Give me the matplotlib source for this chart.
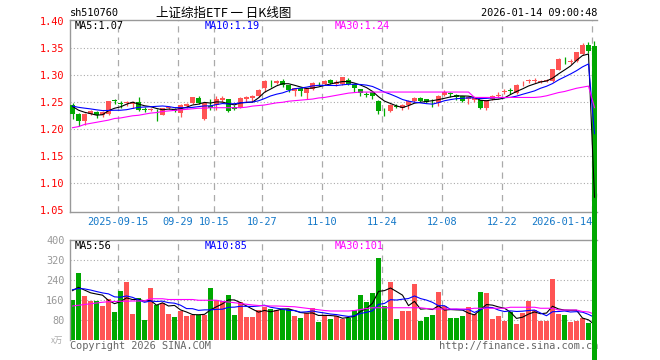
import numpy as np
import matplotlib
matplotlib.use('Agg')
import matplotlib.pyplot as plt

# daily candles, 2025-09-03 .. 2026-01-14 (last bar is the pre-market glitch at 0)
opens = [1.245, 1.228, 1.215, 1.229, 1.232, 1.226, 1.228, 1.254, 1.249, 1.248,
         1.247, 1.250, 1.237, 1.235, 1.234, 1.227, 1.239, 1.238, 1.230, 1.243,
         1.248, 1.258, 1.220, 1.244, 1.245, 1.254, 1.256, 1.242, 1.240, 1.256,
         1.258, 1.262, 1.276, 1.288, 1.285, 1.290, 1.282, 1.271, 1.277, 1.267,
         1.274, 1.284, 1.283, 1.291, 1.283, 1.283, 1.291, 1.283, 1.274, 1.265,
         1.270, 1.252, 1.236, 1.234, 1.243, 1.240, 1.245, 1.252, 1.258, 1.256,
         1.253, 1.248, 1.263, 1.267, 1.264, 1.262, 1.256, 1.254, 1.254, 1.240,
         1.257, 1.261, 1.270, 1.272, 1.268, 1.285, 1.289, 1.290, 1.288, 1.289,
         1.289, 1.310, 1.327, 1.325, 1.326, 1.339, 1.357, 1.355]
closes = [1.228, 1.215, 1.229, 1.233, 1.226, 1.232, 1.252, 1.252, 1.246, 1.250,
          1.251, 1.235, 1.236, 1.238, 1.233, 1.239, 1.241, 1.233, 1.245, 1.246,
          1.260, 1.249, 1.249, 1.239, 1.257, 1.258, 1.234, 1.238, 1.258, 1.260,
          1.262, 1.273, 1.290, 1.287, 1.290, 1.282, 1.273, 1.276, 1.271, 1.276,
          1.286, 1.283, 1.290, 1.285, 1.288, 1.296, 1.283, 1.276, 1.267, 1.264,
          1.261, 1.234, 1.235, 1.245, 1.242, 1.245, 1.252, 1.258, 1.253, 1.250,
          1.252, 1.262, 1.270, 1.266, 1.259, 1.252, 1.260, 1.258, 1.240, 1.254,
          1.262, 1.264, 1.271, 1.271, 1.282, 1.286, 1.291, 1.290, 1.289, 1.291,
          1.312, 1.331, 1.326, 1.326, 1.343, 1.357, 1.345, 0.000]
highs = [1.248, 1.230, 1.230, 1.235, 1.234, 1.234, 1.252, 1.256, 1.252, 1.252,
         1.253, 1.259, 1.241, 1.239, 1.238, 1.240, 1.243, 1.239, 1.246, 1.249,
         1.260, 1.262, 1.251, 1.256, 1.262, 1.262, 1.257, 1.245, 1.259, 1.261,
         1.263, 1.275, 1.291, 1.291, 1.291, 1.294, 1.282, 1.277, 1.279, 1.276,
         1.288, 1.288, 1.291, 1.293, 1.291, 1.296, 1.295, 1.285, 1.275, 1.269,
         1.271, 1.254, 1.239, 1.246, 1.246, 1.246, 1.254, 1.259, 1.259, 1.257,
         1.256, 1.263, 1.272, 1.270, 1.265, 1.262, 1.262, 1.258, 1.255, 1.255,
         1.263, 1.269, 1.275, 1.276, 1.283, 1.290, 1.294, 1.295, 1.292, 1.293,
         1.312, 1.332, 1.333, 1.331, 1.344, 1.359, 1.362, 1.363]
lows = [1.220, 1.207, 1.208, 1.226, 1.221, 1.223, 1.227, 1.246, 1.240, 1.243,
        1.240, 1.233, 1.232, 1.234, 1.215, 1.226, 1.237, 1.232, 1.223, 1.240,
        1.247, 1.247, 1.217, 1.235, 1.236, 1.251, 1.232, 1.236, 1.239, 1.250,
        1.251, 1.260, 1.270, 1.279, 1.284, 1.279, 1.269, 1.262, 1.262, 1.257,
        1.272, 1.280, 1.282, 1.283, 1.281, 1.282, 1.282, 1.269, 1.261, 1.260,
        1.257, 1.228, 1.224, 1.232, 1.239, 1.236, 1.238, 1.250, 1.250, 1.248,
        1.242, 1.244, 1.261, 1.259, 1.255, 1.250, 1.247, 1.251, 1.238, 1.236,
        1.254, 1.258, 1.266, 1.266, 1.266, 1.281, 1.285, 1.285, 1.285, 1.287,
        1.288, 1.309, 1.320, 1.320, 1.325, 1.338, 1.341, 0.000]
# volume (万)
volumes = [157, 267, 175, 155, 155, 135, 161, 111, 195, 231,
           101, 165, 79, 205, 137, 148, 101, 91, 115, 95,
           97, 97, 99, 205, 157, 155, 177, 97, 151, 91,
           91, 117, 131, 124, 117, 121, 121, 95, 85, 105,
           125, 71, 97, 81, 95, 81, 88, 119, 179, 151,
           188, 325, 135, 231, 81, 115, 115, 221, 75, 91,
           97, 191, 135, 85, 85, 93, 129, 101, 191, 185,
           81, 93, 75, 112, 61, 105, 155, 119, 75, 75,
           241, 101, 97, 71, 75, 85, 65, 0]
# closes / volumes of the days just before the window (for MA5 / MA10)
prev_closes = [1.238, 1.244, 1.247, 1.243, 1.246, 1.250, 1.248, 1.246, 1.240]
prev_volumes = [220, 190, 200, 215, 190, 200, 230, 210, 180]
# MA30 lines
price_ma30 = [1.203, 1.205, 1.209, 1.211, 1.213, 1.215, 1.217, 1.220, 1.221, 1.223,
              1.225, 1.226, 1.228, 1.230, 1.231, 1.233, 1.234, 1.235, 1.236, 1.237,
              1.238, 1.239, 1.239, 1.240, 1.240, 1.240, 1.240, 1.240, 1.240, 1.241,
              1.243, 1.244, 1.245, 1.247, 1.249, 1.250, 1.252, 1.253, 1.254, 1.255,
              1.256, 1.258, 1.259, 1.261, 1.263, 1.265, 1.267, 1.268, 1.269, 1.269,
              1.269, 1.269, 1.269, 1.269, 1.269, 1.269, 1.269, 1.269, 1.269, 1.269,
              1.269, 1.269, 1.269, 1.269, 1.269, 1.269, 1.269, 1.259, 1.259, 1.259,
              1.259, 1.259, 1.259, 1.259, 1.259, 1.259, 1.259, 1.259, 1.260, 1.262,
              1.265, 1.268, 1.270, 1.273, 1.276, 1.278, 1.280, 1.240]
vol_ma30 = [134, 137, 140, 143, 146, 149, 151, 152, 153, 153,
            154, 154, 155, 163, 163, 163, 160, 160, 160, 160,
            160, 157, 157, 157, 157, 152, 150, 147, 144, 141,
            138, 136, 135, 134, 134, 133, 132, 131, 128, 125,
            122, 119, 116, 114, 114, 114, 114, 116, 120, 124,
            127, 127, 127, 127, 127, 127, 127, 127, 127, 124,
            122, 122, 122, 122, 122, 122, 122, 125, 125, 125,
            125, 125, 125, 129, 129, 129, 129, 129, 125, 125,
            125, 118, 118, 118, 118, 112, 110, 101]

tick_bars = [8, 18, 24, 32, 42, 52, 62, 72, 87]
tick_labels = ['2025-09-15', '09-29', '10-15', '10-27', '11-10', '11-24', '12-08', '12-22', '2026-01-14']
vol_grid_bars = [8, 18, 32, 42, 52, 62, 72]

price_ticks = [1.05, 1.10, 1.15, 1.20, 1.25, 1.30, 1.35, 1.40]
vol_ticks = [80, 160, 240, 320, 400]

RED = '#ff5454'
GREEN = '#00a800'
GRID = '#aaaaaa'
FRAME = '#999999'
MONO = 'DejaVu Sans Mono'
CJK = ['Noto Sans CJK SC', 'DejaVu Sans']


def ma(prev, vals, n):
    s = np.concatenate([np.array(prev[-(n - 1):], float), np.array(vals, float)])
    return np.convolve(s, np.ones(n) / n, mode='valid')


W, H = 660, 360


def box(l, t, r, b):
    return [l / W, 1 - b / H, (r - l) / W, (b - t) / H]


def px(xp, yp):
    return xp / W, 1 - yp / H


fig = plt.figure(figsize=(6.6, 3.6), dpi=100)
ax_v = fig.add_axes(box(70, 239.5, 597, 339.5), zorder=1)
ax = fig.add_axes(box(70, 20, 597, 211.5), zorder=2)

o = np.array(opens)
c = np.array(closes)
x = np.arange(len(o))
cols = np.where(c >= o, RED, GREEN)
xlim = (-2.5 / 6, len(o) - 1 + 2.5 / 6)

# ---- price panel
for p in price_ticks[1:-1]:
    ax.axhline(p, color=GRID, lw=0.8, ls=(0, (1, 2)), zorder=0)
for b in tick_bars:
    ax.axvline(b - 0.42, color=GRID, lw=0.9, ls=(0, (5, 4)), zorder=0)

ax.vlines(x, lows, highs, colors=cols, lw=0.9, zorder=2)
body_low = np.minimum(o, c)
body_h = np.maximum(np.abs(c - o), 0.0013)
bars = ax.bar(x, body_h, bottom=body_low, width=0.8, color=cols, linewidth=0, zorder=3)
bars[-1].set_clip_on(False)

ax.plot(x, ma(prev_closes, closes, 5), color='black', lw=0.8, zorder=4)
ax.plot(x, ma(prev_closes, closes, 10), color='#0000ff', lw=0.8, zorder=4)
ax.plot(x, price_ma30, color='#ff00ff', lw=0.8, zorder=4)

ax.set_xlim(xlim)
ax.set_ylim(1.0478, 1.4024)
ax.set_yticks(price_ticks)
ax.set_yticklabels(['%.2f' % p for p in price_ticks], color='#ff0000',
                   fontsize=7.4, family=MONO)
ax.set_xticks([b - 0.42 for b in tick_bars])
ax.set_xticklabels(tick_labels, color='#1478c8', fontsize=7.4, family=MONO)
ax.get_xticklabels()[-1].set_ha('right')
ax.tick_params(length=0, pad=4)
for s in ['left', 'top', 'bottom']:
    ax.spines[s].set_color(FRAME)
    ax.spines[s].set_linewidth(1.0)
ax.spines['right'].set_visible(False)

# ---- volume panel
for v in vol_ticks[:-1]:
    ax_v.axhline(v, color=GRID, lw=0.8, ls=(0, (1, 2)), zorder=0)
for b in vol_grid_bars:
    ax_v.axvline(b - 0.42, color=GRID, lw=0.9, ls=(0, (5, 4)), zorder=0)
ax_v.bar(x, volumes, width=0.8, color=cols, linewidth=0, zorder=2)
ax_v.plot(x, ma(prev_volumes, volumes, 5), color='black', lw=0.8, zorder=3)
ax_v.plot(x, ma(prev_volumes, volumes, 10), color='#0000ff', lw=0.8, zorder=3)
ax_v.plot(x, vol_ma30, color='#ff00ff', lw=0.8, zorder=3)
ax_v.set_xlim(xlim)
ax_v.set_ylim(0, 400)
ax_v.set_xticks([])
ax_v.set_yticks(vol_ticks)
ax_v.set_yticklabels([str(v) for v in vol_ticks], color='#999999', fontsize=7.4, family=MONO)
ax_v.tick_params(length=0, pad=4)
for s in ['left', 'top']:
    ax_v.spines[s].set_color(FRAME)
    ax_v.spines[s].set_linewidth(1.0)
ax_v.spines['right'].set_visible(False)
ax_v.spines['bottom'].set_visible(False)

# ---- texts
fig.text(*px(70, 13), 'sh510760', fontsize=7.4, family=MONO, va='center', ha='left')
fig.text(*px(224, 13), '上证综指ETF 一 日K线图', fontsize=9, family=CJK, va='center', ha='center')
fig.text(*px(597, 13), '2026-01-14 09:00:48', fontsize=7.4, family=MONO, va='center', ha='right')

fig.text(*px(75, 26), 'MA5:1.07', fontsize=7.4, family=MONO, va='center', color='black', zorder=5)
fig.text(*px(205, 26), 'MA10:1.19', fontsize=7.4, family=MONO, va='center', color='#0000ff', zorder=5)
fig.text(*px(335, 26), 'MA30:1.24', fontsize=7.4, family=MONO, va='center', color='#ff00ff', zorder=5)
fig.text(*px(75, 246), 'MA5:56', fontsize=7.4, family=MONO, va='center', color='black', zorder=5)
fig.text(*px(205, 246), 'MA10:85', fontsize=7.4, family=MONO, va='center', color='#0000ff', zorder=5)
fig.text(*px(335, 246), 'MA30:101', fontsize=7.4, family=MONO, va='center', color='#ff00ff', zorder=5)

fig.text(*px(580, 197), 'sina', fontsize=12, fontweight='bold', fontstyle='italic',
         color='#dddddd', ha='center', va='center', zorder=-1)
fig.text(*px(63, 340), 'x万', fontsize=6, family=CJK, color='#aaaaaa', ha='right', va='center', zorder=-1)
fig.text(*px(70, 346), 'Copyright 2026 SINA.COM', fontsize=7.4, family=MONO,
         color='#666666', ha='left', va='center', zorder=-1)
fig.text(*px(598, 346), 'http://finance.sina.com.cn', fontsize=7.4, family=MONO,
         color='#666666', ha='right', va='center', zorder=-1)

fig.savefig('out.png', dpi=100)
